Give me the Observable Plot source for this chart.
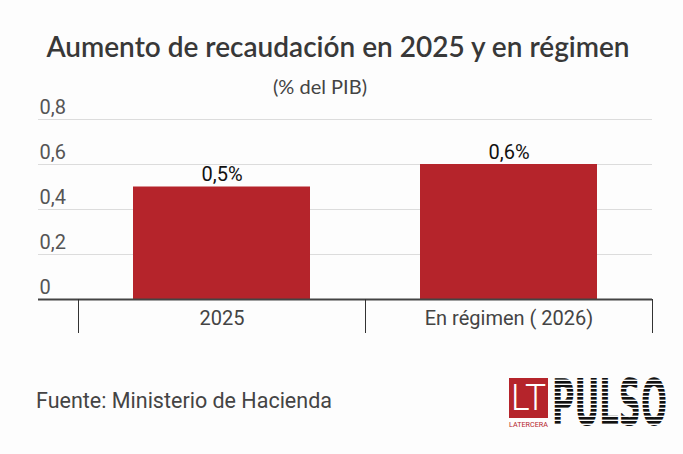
<!DOCTYPE html>
<html>
<head>
<meta charset="utf-8">
<script src="https://cdn.jsdelivr.net/npm/d3@7"></script>
<script src="https://cdn.jsdelivr.net/npm/@observablehq/plot@0.6"></script>
<style>
  html, body { margin: 0; padding: 0; background: #fdfdfd; }
  #wrap { position: relative; width: 683px; height: 454px; background: #fdfdfd; overflow: hidden; }
  #title { position: absolute; left: 0; width: 676px; top: 32px; text-align: center;
           font: 600 28px/1 Lato, sans-serif; color: #383838; white-space: nowrap; }
  #subtitle { position: absolute; left: 0; width: 640px; top: 76px; text-align: center;
           font: 400 20px/1 Lato, sans-serif; color: #444; white-space: nowrap; }
  #chart { position: absolute; left: 0; top: 95px; }
  #source { position: absolute; left: 36px; top: 390px; font: 400 21.5px/1 Roboto, sans-serif; color: #444; white-space: nowrap; }
  #logo { position: absolute; left: 505px; top: 354px; }
</style>
</head>
<body>
<div id="wrap">
  <div id="title">Aumento de recaudación en 2025 y en régimen</div>
  <div id="subtitle">(% del PIB)</div>
  <div id="chart"></div>
  <div id="source">Fuente: Ministerio de Hacienda</div>
  <div id="logo">
    <svg width="172" height="100" xmlns="http://www.w3.org/2000/svg">
      <defs>
        <pattern id="stripes" patternUnits="userSpaceOnUse" width="8" height="4">
          <rect width="8" height="2.8" fill="#111"/>
          <rect y="2.8" width="8" height="1.2" fill="#fdfdfd"/>
        </pattern>
      </defs>
      <rect x="4" y="24" width="39" height="40" fill="#b5242b"/>
      <text class="fit" data-x="6" data-y="56" data-w="35" font-family="Roboto" font-weight="300" font-size="37" fill="#fff">LT</text>
      <text class="fit" data-x="4" data-y="72.5" data-w="39" font-family="Roboto" font-weight="400" font-size="7" fill="#b5242b">LATERCERA</text>
      <text class="fit" data-x="47" data-y="71" data-w="115" font-family="DejaVu Sans Condensed, DejaVu Sans" font-weight="bold" font-size="64" fill="url(#stripes)">PULSO</text>
    </svg>
  </div>
</div>
<script>
const categorias = ["2025", "En régimen ( 2026)"];
const valores = [0.5, 0.6];
const yTicks = [0, 0.2, 0.4, 0.6, 0.8];

const datos = categorias.map((c, i) => ({categoria: c, valor: valores[i]}));
const coma = d => String(d).replace(".", ",");

const chart = Plot.plot({
  width: 683,
  height: 250,
  marginLeft: 78,
  marginRight: 31,
  marginTop: 24,
  marginBottom: 46,
  style: {background: "transparent", fontFamily: "Roboto", overflow: "visible"},
  x: {domain: categorias, padding: 0, axis: null, label: null},
  y: {domain: [0, 0.8], axis: null, label: null},
  marks: [
    Plot.ruleY(yTicks.filter(d => d > 0), {stroke: "#dcdcdc", strokeWidth: 1, insetLeft: -40}),
    Plot.barY(datos, {x: "categoria", y: "valor", fill: "#b5242b", insetLeft: 55, insetRight: 55}),
    Plot.ruleY([0], {stroke: "#444", strokeWidth: 2, insetLeft: -40}),
    Plot.axisY({ticks: yTicks, tickSize: 0, tickPadding: 0, textAnchor: "start", dx: -39, dy: -12,
                tickFormat: coma, fontSize: 20, color: "#555", label: null}),
    Plot.axisX({tickSize: 0, tickPadding: 11, fontSize: 20, color: "#444", label: null}),
    Plot.text(datos, {x: "categoria", y: "valor", text: d => coma(d.valor) + "%", lineAnchor: "bottom",
                      dy: -6, fontSize: 20, fill: "#111"})
  ]
});

// separadores entre categorías, a partir de la escala x de Plot
const sx = chart.scale("x");
const sy = chart.scale("y");
const y0 = sy.apply(0);
const limites = categorias.map(c => sx.apply(c)).concat([sx.apply(categorias[categorias.length - 1]) + sx.bandwidth]);
d3.select(chart).append("g")
  .selectAll("line").data(limites).join("line")
  .attr("x1", d => Math.round(d) + 0.5).attr("x2", d => Math.round(d) + 0.5)
  .attr("y1", y0).attr("y2", y0 + 34)
  .attr("stroke", "#333").attr("stroke-width", 1);

document.getElementById("chart").appendChild(chart);

// logotipo: ajustar textos a su ancho
document.querySelectorAll("#logo text.fit").forEach(t => {
  const w = t.getComputedTextLength();
  const s = (+t.dataset.w) / w;
  t.setAttribute("transform", `translate(${t.dataset.x},${t.dataset.y}) scale(${s},1)`);
});
</script>
</body>
</html>
